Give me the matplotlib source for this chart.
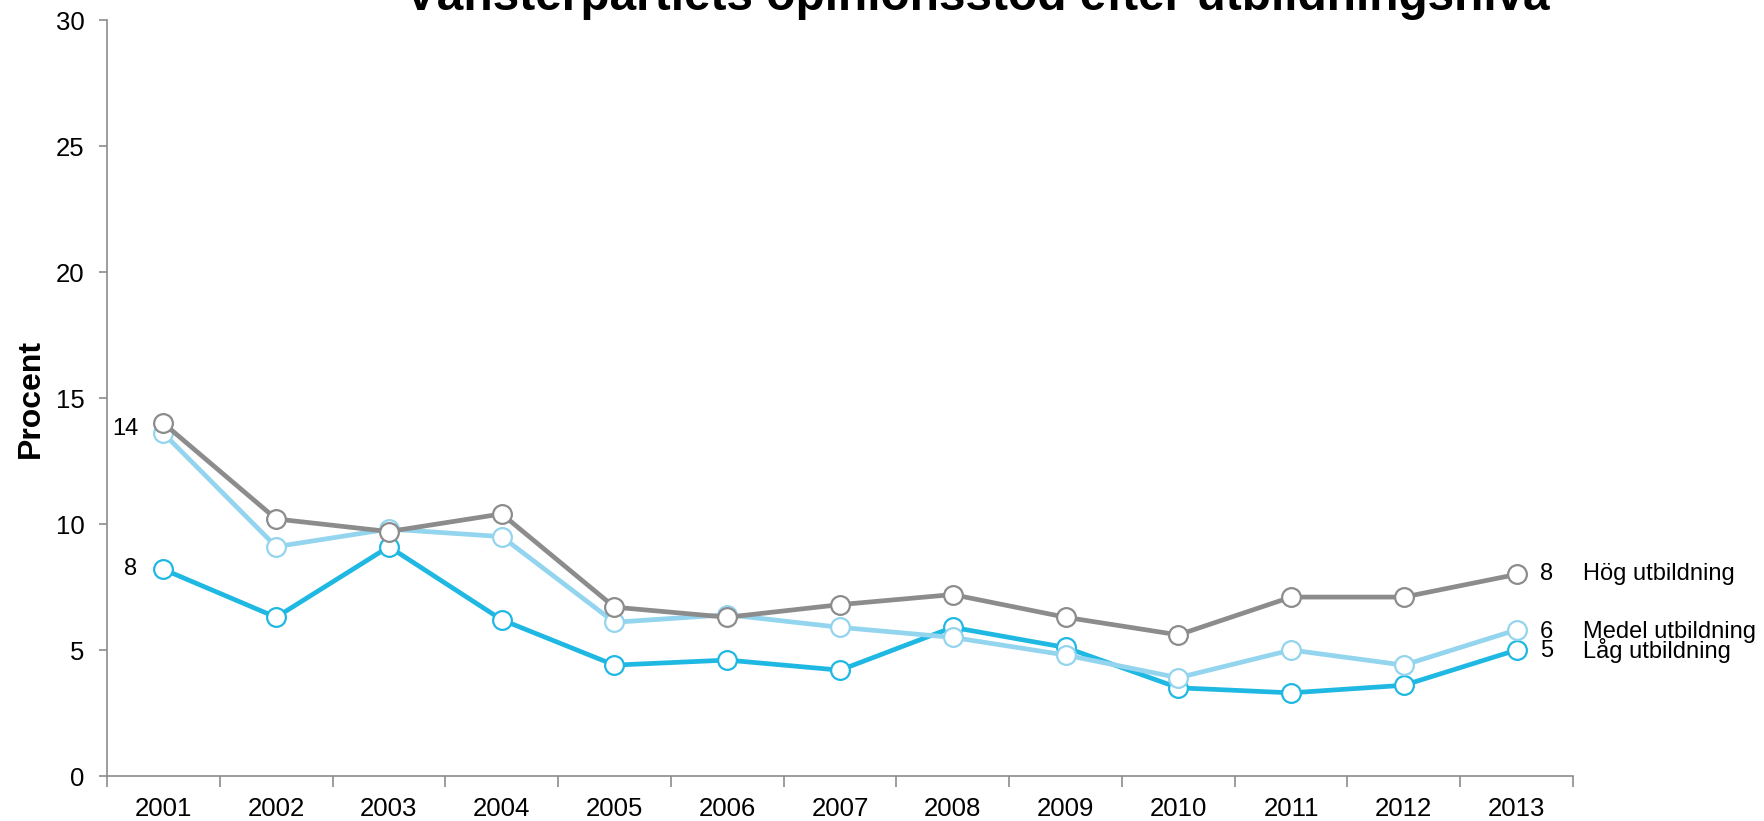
import matplotlib
matplotlib.use("Agg")
import matplotlib.pyplot as plt

plt.rcParams["font.family"] = ["Liberation Sans", "DejaVu Sans"]

years = ["2001", "2002", "2003", "2004", "2005", "2006", "2007",
         "2008", "2009", "2010", "2011", "2012", "2013"]
hog = [14.0, 10.2, 9.7, 10.4, 6.7, 6.3, 6.8, 7.2, 6.3, 5.6, 7.1, 7.1, 8.0]
medel = [13.6, 9.1, 9.8, 9.5, 6.1, 6.4, 5.9, 5.5, 4.8, 3.9, 5.0, 4.4, 5.8]
lag = [8.2, 6.3, 9.1, 6.2, 4.4, 4.6, 4.2, 5.9, 5.1, 3.5, 3.3, 3.6, 5.0]

series = [
    ("Låg utbildning", lag, "#1fb8e2", "5"),
    ("Medel utbildning", medel, "#93d4ee", "6"),
    ("Hög utbildning", hog, "#8c8c8c", "8"),
]

AXIS = "#8c8c8c"

fig = plt.figure(figsize=(17.64, 8.21), dpi=100)
ax = fig.add_axes([107 / 1764, 45 / 821, (1573 - 107) / 1764, (776 - 20) / 821])

x = list(range(len(years)))
for name, vals, col, endlab in series:
    ax.plot(x, vals, color=col, lw=3.4, marker="o", ms=13.5,
            mfc="white", mec=col, mew=1.6, solid_joinstyle="round", zorder=3)

# start-of-line labels
ax.annotate("14", (0, hog[0]), xytext=(-18, -4), textcoords="offset points",
            ha="right", va="center", fontsize=17)
ax.annotate("8", (0, lag[0]), xytext=(-19, 0), textcoords="offset points",
            ha="right", va="center", fontsize=17)

# end-of-line labels
end_offsets = {"Hög utbildning": 0, "Medel utbildning": -1.5, "Låg utbildning": -0.5}
for name, vals, col, endlab in series:
    dy = end_offsets[name]
    ax.annotate(endlab, (x[-1], vals[-1]), xytext=(17, dy), textcoords="offset points",
                ha="left", va="center", fontsize=17, annotation_clip=False)
    ax.annotate(name, (x[-1], vals[-1]), xytext=(48, dy), textcoords="offset points",
                ha="left", va="center", fontsize=17, annotation_clip=False)

ax.set_xlim(-0.5, len(years) - 0.5)
ax.set_ylim(0, 30)
ax.set_yticks(range(0, 31, 5))
ax.set_xticks(x)
ax.set_xticklabels(years)
ax.set_xticks([i - 0.5 for i in range(len(years) + 1)], minor=True)
ax.tick_params(axis="x", which="major", length=0, pad=15, labelsize=18.5)
ax.tick_params(axis="x", which="minor", length=8, color=AXIS, width=1.2)
ax.tick_params(axis="y", length=6, color=AXIS, width=1.2, pad=10, labelsize=18.5)

for s in ("top", "right"):
    ax.spines[s].set_visible(False)
for s in ("left", "bottom"):
    ax.spines[s].set_color(AXIS)
    ax.spines[s].set_linewidth(1.2)

ax.set_ylabel("Procent", fontsize=23, fontweight="bold", labelpad=7)

fig.text(977 / 1764, 1 - 10 / 821, "Vänsterpartiets opinionsstöd efter utbildningsnivå",
         ha="center", va="baseline", fontsize=34.4, fontweight="bold")

fig.savefig("out.png", dpi=100)
